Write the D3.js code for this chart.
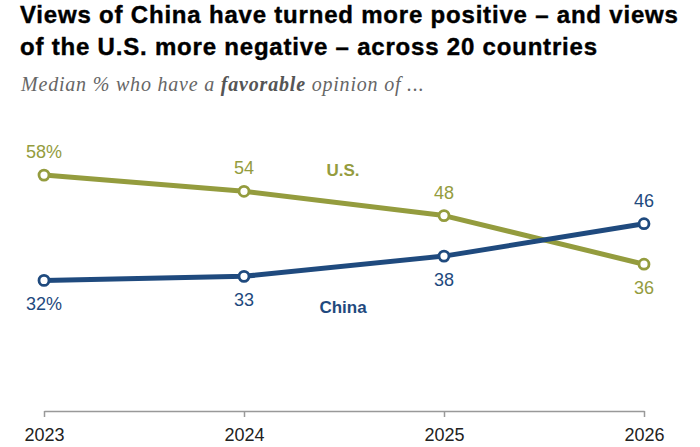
<!DOCTYPE html>
<html>
<head>
<meta charset="utf-8">
<script src="https://cdn.jsdelivr.net/npm/d3@7"></script>
<style>
  body { margin: 0; background: #fff; }
  svg { display: block; }
</style>
</head>
<body>
<div id="chart"></div>
<script>
const years = [2023, 2024, 2025, 2026];
const usValues = [58, 54, 48, 36];
const chinaValues = [32, 33, 38, 46];
const usLabels = ["58%", "54", "48", "36"];
const chinaLabels = ["32%", "33", "38", "46"];

const width = 700,
      height = 447,
      margin = ({ top: 5, right: 56, bottom: 37, left: 44 });

const green = "#949c3e",
      blue = "#1f4a7e";

let svg = d3.select("#chart")
    .append("svg")
    .attr("width", width)
    .attr("height", height);

// title + subtitle
let title = svg.append("text")
    .attr("font-family", "'Liberation Sans', Arial, sans-serif")
    .attr("font-weight", "bold")
    .attr("font-size", 24)
    .attr("letter-spacing", 0.8)
    .attr("fill", "#000")
    .attr("stroke", "#000")
    .attr("stroke-width", 0.4);
title.append("tspan").attr("x", 20).attr("y", 23)
    .text("Views of China have turned more positive \u2013 and views");
title.append("tspan").attr("x", 20).attr("y", 55)
    .text("of the U.S. more negative \u2013 across 20 countries");

let sub = svg.append("text")
    .attr("x", 21)
    .attr("y", 91)
    .attr("font-family", "'Liberation Serif', 'DejaVu Serif', serif")
    .attr("font-style", "italic")
    .attr("font-size", 20)
    .attr("letter-spacing", 0.8)
    .attr("fill", "#666");
sub.append("tspan").text("Median % who have a ");
sub.append("tspan").attr("font-weight", "bold").attr("fill", "#555").text("favorable");
sub.append("tspan").text(" opinion of ...");

let x = d3.scalePoint()
    .domain(years)
    .range([margin.left, width - margin.right]);

let y = d3.scaleLinear()
    .domain([0, 100])
    .range([410, 5]);

// x axis
let xAxis = svg.append("g")
    .attr("transform", `translate(0,${y(0) + 1})`)
    .call(d3.axisBottom(x).tickSize(6).tickSizeOuter(0).tickPadding(11));
xAxis.select(".domain").attr("stroke", "#999").attr("stroke-width", 1.5);
xAxis.selectAll(".tick line").attr("stroke", "#999").attr("stroke-width", 1.5);
xAxis.selectAll(".tick text")
    .attr("font-family", "'Liberation Sans', Arial, sans-serif")
    .attr("font-size", 18)
    .attr("fill", "#222");

let line = d3.line()
    .x((d, i) => x(years[i]))
    .y(d => y(d));

let series = [
    { name: "U.S.", values: usValues, labels: usLabels, color: green },
    { name: "China", values: chinaValues, labels: chinaLabels, color: blue }
];

// China label sits above its marker in 2026, U.S. below
const labelSide = { "U.S.": [-1, -1, -1, 1], "China": [1, 1, 1, -1] };

for (let s of series) {
    svg.append("path")
        .datum(s.values)
        .attr("fill", "none")
        .attr("stroke", s.color)
        .attr("stroke-width", 5)
        .attr("stroke-linejoin", "round")
        .attr("d", line);
}

for (let s of series) {
    svg.selectAll(null)
        .data(s.values)
        .join("circle")
        .attr("cx", (d, i) => x(years[i]))
        .attr("cy", d => y(d))
        .attr("r", 5)
        .attr("fill", "#fff")
        .attr("stroke", s.color)
        .attr("stroke-width", 2.8);

    svg.selectAll(null)
        .data(s.values)
        .join("text")
        .attr("x", (d, i) => x(years[i]))
        .attr("y", (d, i) => y(d) + (labelSide[s.name][i] < 0 ? -17 : 30))
        .attr("text-anchor", "middle")
        .attr("font-family", "'Liberation Sans', Arial, sans-serif")
        .attr("font-size", 18)
        .attr("fill", s.color)
        .text((d, i) => s.labels[i]);
}

// series names
svg.append("text")
    .attr("x", 343)
    .attr("y", 176)
    .attr("text-anchor", "middle")
    .attr("font-family", "'Liberation Sans', Arial, sans-serif")
    .attr("font-weight", "bold")
    .attr("font-size", 17)
    .attr("fill", green)
    .text("U.S.");

svg.append("text")
    .attr("x", 343)
    .attr("y", 313)
    .attr("text-anchor", "middle")
    .attr("font-family", "'Liberation Sans', Arial, sans-serif")
    .attr("font-weight", "bold")
    .attr("font-size", 17)
    .attr("fill", blue)
    .text("China");
</script>
</body>
</html>
